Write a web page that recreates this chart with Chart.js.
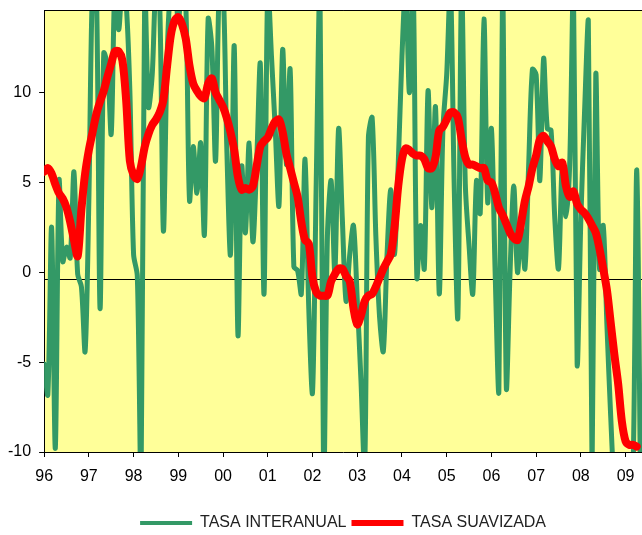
<!DOCTYPE html>
<html lang="es">
<head>
    <meta charset="UTF-8">
    <title>Tasa interanual y tasa suavizada</title>
    <script src="https://cdn.jsdelivr.net/npm/chart.js"></script>
    <style>
        body {
            margin: 0;
            background-color: #ffffff;
        }

        .chart-box {
            width: 642px;
            height: 535px;
        }
    </style>
</head>
<body>
    <div class="chart-box">
        <canvas id="tasaChart"></canvas>
    </div>

    <script>
        // monthly values, Jan 1996 onwards
        const tasaInteranual = [
            -5.1, -6.8, 2.5, -9.8, 5.1, 0.6, 1.4, 0.8, 5.6, -0.1, -0.8, -4.4,
            4, 16, 16, -2.0, 12.2, 11.5, 7.7, 16, 13.5, 16, 15, 10.1,
            1.0, -0.2, -12, 16, 9.2, 11, 16, 15, 2.3, 12, 16, 16,
            14, 16, 15, 4.0, 7, 4.4, 7.2, 2.1, 14.1, 12.5, 6.2, 16,
            16, 7, 1.0, 12.6, -3.5, 5.9, 2.2, 7.2, 1.7, 6, 11.6, -1.2,
            16, 12, 8, 3.7, 12.4, 6, 11.3, 0.3, 0.1, -1.2, 6.3, -2,
            -6.7, 5, 16, -12, 2, 5.1, 0.0, 8.0, 3, -1.6, 1, 2.6,
            -1.5, -6, -11, 7.5, 8.6, 2, -2.5, -4.4, 1, 4.6, 1.0, 6,
            12, 16, 10, 16, -0.3, 2.6, 0.2, 10.1, 3.6, 9.2, -1.2, 8,
            11, 16, 5, -2.5, 16, 4.9, 1.5, -1.2, 5.1, 3.3, 14.1, 3.9,
            8.0, 0, -6.6, 16, -6.4, 0, 4.8, 0, 2.5, 0.2, 6, 11.3,
            11, 5.1, 11.9, 8, 7.9, 3, 0.2, 5.9, 3.1, 6, 16, -5.1,
            3, 9, 14.0, -11, 11.0, 0.2, 2.6, -3, -8, -12, -13, -13,
            -12, -12, -11, 5.7, -12
        ];

        const tasaSuavizada = [
            5.6, 5.8, 5.5, 4.9, 4.4, 4.1, 3.6, 2.8, 1.8, 0.9, 3.5, 5.5,
            6.8, 7.8, 8.8, 9.5, 10.1, 10.9, 11.6, 12.3, 12.3, 11.8, 9.6, 6.2,
            5.4, 5.2, 5.9, 7.0, 7.7, 8.2, 8.5, 8.9, 9.6, 11.5, 13.2, 14.0,
            14.2, 13.8, 13.0, 11.5, 10.5, 10.1, 9.8, 9.7, 10.5, 10.8, 10.0, 9.6,
            9.2, 8.6, 7.8, 6.8, 5.3, 4.6, 4.7, 4.6, 4.8, 5.9, 7.0, 7.3,
            7.5, 8.0, 8.4, 8.5, 7.8, 6.6, 5.8, 5.0, 4.2, 2.8, 1.8, 1.6,
            -0.3, -1.1, -1.3, -1.3, -1.3, -0.5, -0.1, 0.2, 0.2, -0.2, -0.5, -2.0,
            -2.9, -2.4, -1.6, -1.3, -1.2, -0.8, -0.3, 0.2, 0.6, 1.0, 2.5, 4.8,
            6.3, 6.9, 6.8, 6.6, 6.5, 6.5, 6.3, 5.8, 5.8, 6.4, 7.9, 8.1,
            8.5, 8.9, 8.9, 8.6, 7.4, 6.4, 6.0, 6.0, 5.9, 5.8, 5.8, 5.1,
            5.0, 4.4, 3.6, 3.2, 2.7, 2.2, 1.9, 1.8, 2.8, 4.0, 4.8, 5.8,
            6.5, 7.4, 7.6, 7.3, 7.0, 6.3, 5.9, 6.1, 4.8, 4.2, 4.5, 3.8,
            3.5, 3.3, 3.0, 2.6, 2.2, 1.3, 0.2, -1.0, -2.8, -4.6, -6.2, -8.3,
            -9.4, -9.6, -9.6, -9.7
        ];

        const lineaReferencia = [-0.4, -0.4];
        const yearLabels = ['96', '97', '98', '99', '00', '01', '02', '03', '04', '05', '06', '07', '08', '09'];
        const yTicks = [-10, -5, 0, 5, 10];

        const toPoints = arr => arr.map((v, i) => ({ x: i, y: v }));

        // plot background + top border
        const plotArea = {
            id: 'plotArea',
            beforeDraw(chart) {
                const { ctx, chartArea: a } = chart;
                ctx.save();
                ctx.fillStyle = '#FFFF99';
                ctx.fillRect(a.left, a.top, a.right - a.left, a.bottom - a.top);
                ctx.restore();
            },
            afterDraw(chart) {
                const { ctx, chartArea: a } = chart;
                ctx.save();
                ctx.strokeStyle = '#000';
                ctx.lineWidth = 1;
                ctx.beginPath();
                ctx.moveTo(a.left, a.top + 0.5);
                ctx.lineTo(a.right, a.top + 0.5);
                ctx.stroke();
                ctx.restore();
            }
        };

        Chart.defaults.font.family = "'Liberation Sans', Arial, sans-serif";
        Chart.defaults.color = '#000';

        const legendWidths = [4, 6];

        const ctx = document.getElementById('tasaChart').getContext('2d');
        new Chart(ctx, {
            type: 'line',
            data: {
                datasets: [{
                    label: 'TASA INTERANUAL',
                    data: toPoints(tasaInteranual),
                    borderColor: '#339966',
                    backgroundColor: '#339966',
                    borderWidth: 5,
                    borderCapStyle: 'round',
                    pointRadius: 0,
                    tension: 0.3,
                    clip: 0,
                    order: 2
                }, {
                    label: 'TASA SUAVIZADA',
                    data: toPoints(tasaSuavizada),
                    borderColor: '#FF0000',
                    backgroundColor: '#FF0000',
                    borderWidth: 8,
                    borderCapStyle: 'round',
                    pointRadius: 0,
                    tension: 0.3,
                    clip: 0,
                    order: 1
                }, {
                    label: '',
                    data: [{ x: 0, y: lineaReferencia[0] }, { x: 160.4, y: lineaReferencia[1] }],
                    borderColor: '#000',
                    borderWidth: 1,
                    pointRadius: 0,
                    clip: 0,
                    order: 3
                }]
            },
            options: {
                responsive: true,
                maintainAspectRatio: false,
                animation: false,
                events: [],
                layout: {
                    padding: { top: 10, left: 0, right: 0, bottom: -6 }
                },
                scales: {
                    x: {
                        type: 'linear',
                        min: 0,
                        max: 160.4,
                        afterBuildTicks: scale => {
                            scale.ticks = yearLabels.map((_, k) => ({ value: k * 12 }));
                        },
                        afterFit: scale => {
                            scale.height = 58;
                            scale.paddingLeft = 0;
                            scale.paddingRight = 0;
                        },
                        ticks: {
                            font: { size: 16 },
                            padding: 10,
                            maxRotation: 0,
                            autoSkip: false,
                            callback: (value, index) => yearLabels[index]
                        },
                        grid: { drawOnChartArea: false, tickLength: 5, color: '#000' },
                        border: { color: '#000' }
                    },
                    y: {
                        min: -10,
                        max: 14.6,
                        afterBuildTicks: scale => {
                            scale.ticks = yTicks.map(v => ({ value: v }));
                        },
                        afterFit: scale => {
                            scale.paddingTop = 0;
                            scale.paddingBottom = 0;
                        },
                        ticks: {
                            font: { size: 16 },
                            padding: 8
                        },
                        grid: { drawOnChartArea: false, tickLength: 5, color: '#000' },
                        border: { color: '#000' }
                    }
                },
                plugins: {
                    legend: {
                        position: 'bottom',
                        fullSize: false,
                        labels: {
                            usePointStyle: true,
                            pointStyle: 'line',
                            pointStyleWidth: 52,
                            padding: 5,
                            font: { size: 16 },
                            color: '#222',
                            filter: item => item.text !== '',
                            sort: (a, b) => a.datasetIndex - b.datasetIndex,
                            generateLabels: chart => {
                                const items = Chart.defaults.plugins.legend.labels.generateLabels(chart);
                                items.forEach(item => {
                                    if (item.datasetIndex < legendWidths.length) {
                                        item.lineWidth = legendWidths[item.datasetIndex];
                                    }
                                });
                                return items;
                            }
                        }
                    },
                    tooltip: { enabled: false },
                    title: { display: false }
                }
            },
            plugins: [plotArea]
        });
    </script>
</body>
</html>
